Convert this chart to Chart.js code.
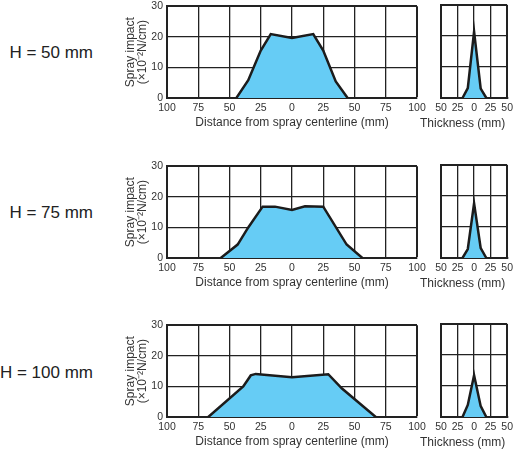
<!DOCTYPE html>
<html>
<head>
<meta charset="utf-8">
<script src="https://cdn.jsdelivr.net/npm/chart.js@4.4.1/dist/chart.umd.min.js"></script>
<style>
  body{margin:0;width:517px;height:452px;overflow:hidden;background:#fff;position:relative;font-family:"Liberation Sans",Arial,sans-serif;}
  canvas{position:absolute;}
  .hlabel{position:absolute;right:424px;font-size:17px;line-height:20px;color:#222;white-space:nowrap;}
  .ttitle{position:absolute;left:420px;width:110px;font-size:12px;line-height:14px;color:#333;white-space:nowrap;}
</style>
</head>
<body>
<div class="hlabel" style="top:43px">H = 50 mm</div>
<div class="hlabel" style="top:203px">H = 75 mm</div>
<div class="hlabel" style="top:363px">H = 100 mm</div>

<canvas id="m50" width="330" height="134" style="left:100px;top:-4px"></canvas>
<canvas id="t50" width="97" height="130" style="left:420px;top:0px"></canvas>
<canvas id="m75" width="330" height="134" style="left:100px;top:156px"></canvas>
<canvas id="t75" width="97" height="130" style="left:420px;top:160px"></canvas>
<canvas id="m100" width="330" height="134" style="left:100px;top:315px"></canvas>
<canvas id="t100" width="97" height="130" style="left:420px;top:319px"></canvas>

<div class="ttitle" style="top:116px">Thickness (mm)</div>
<div class="ttitle" style="top:276px">Thickness (mm)</div>
<div class="ttitle" style="top:435px">Thickness (mm)</div>

<script>
// distance profiles (mm from centerline -> impact x10^-2 N/cm)
const dist50 = [-44.5,-35,-25,-17,0,17,25,35,44.5];
const impact50 = [0,5.8,15.5,20.9,19.6,20.9,15.5,5.4,0];
const dist75 = [-57,-43.5,-35,-23.5,-13.6,0,10.4,25,43.7,56.3];
const impact75 = [0,4.4,10,16.8,16.8,15.7,16.9,16.8,4.4,0];
const dist100 = [-67,-39,-33,-29,0,29,40,67];
const impact100 = [0,10,13.6,14.1,13,14,9.3,0];

// thickness profiles
const thick50 = [-17.5,-9.5,0,10,18.5];
const timpact50 = [0,3.2,21.4,3,0];
const thick75 = [-17.5,-9.5,0,10,18.5];
const timpact75 = [0,2.9,17.6,3.2,0];
const thick100 = [-17.5,-9.5,0,10,18.5];
const timpact100 = [0,3.9,13.5,3.5,0];

const yTicks = [0,10,20,30];
const distRange = [-100,100];
const thickRange = [-50,50];

Chart.defaults.font.family = '"Liberation Sans", Arial, sans-serif';
Chart.defaults.color = '#333';

const FILL = '#66ccf5';
const INK = '#1c1c1c';

function pts(xs, ys){
  return xs.map((x,i)=>({x:x, y:ys[i]}));
}

function gridWidth(max){
  return ctx => (ctx.tick && ctx.tick.value === max) ? 2 : 1.3;
}

function makeChart(id, xs, ys, main){
  const range = main ? distRange : thickRange;
  new Chart(document.getElementById(id), {
    type: 'line',
    data: {
      datasets: [{
        data: pts(xs, ys),
        fill: 'origin',
        backgroundColor: FILL,
        borderColor: INK,
        borderWidth: 2.5,
        pointRadius: 0,
        tension: 0
      }]
    },
    options: {
      responsive: false,
      animation: false,
      events: [],
      layout: { padding: main ? {top:5,right:13,left:0,bottom:0} : {top:5,right:8,left:21,bottom:0} },
      plugins: { legend:{display:false}, tooltip:{enabled:false} },
      scales: {
        x: {
          type: 'linear',
          min: range[0], max: range[1],
          afterFit: s => { s.height = 32; },
          grid: { color: '#222', lineWidth: gridWidth(range[1]), drawTicks: false },
          border: { color: '#222', width: 2 },
          ticks: {
            stepSize: 25, autoSkip: false, maxRotation: 0, padding: 4,
            font: { size: 10.5 }, color: '#333',
            callback: v => String(Math.abs(v))
          },
          title: {
            display: main,
            text: 'Distance from spray centerline (mm)',
            font: { size: 12 }, color: '#333',
            padding: { top: 0, bottom: 0 }
          }
        },
        y: {
          min: 0, max: 30,
          afterFit: s => { s.width = main ? 67 : 0; },
          afterBuildTicks: s => { s.ticks = yTicks.map(v => ({value: v})); },
          grid: { color: '#222', lineWidth: gridWidth(30), drawTicks: false },
          border: { color: '#222', width: 2 },
          ticks: {
            display: main, padding: 4,
            font: { size: 10.5 }, color: '#333'
          },
          title: {
            display: main,
            text: ['Spray impact', '(×10⁻²N/cm)'],
            font: { size: 12, lineHeight: 1.05 }, color: '#333',
            padding: { top: 24, bottom: 0 }
          }
        }
      }
    }
  });
}

makeChart('m50', dist50, impact50, true);
makeChart('t50', thick50, timpact50, false);
makeChart('m75', dist75, impact75, true);
makeChart('t75', thick75, timpact75, false);
makeChart('m100', dist100, impact100, true);
makeChart('t100', thick100, timpact100, false);

// center the thickness titles under their plots
document.querySelectorAll('.ttitle').forEach(el => {
  const w = el.getBoundingClientRect().width;
  el.style.left = (475 - w/2) + 'px';
  el.style.width = 'auto';
});
</script>
</body>
</html>
